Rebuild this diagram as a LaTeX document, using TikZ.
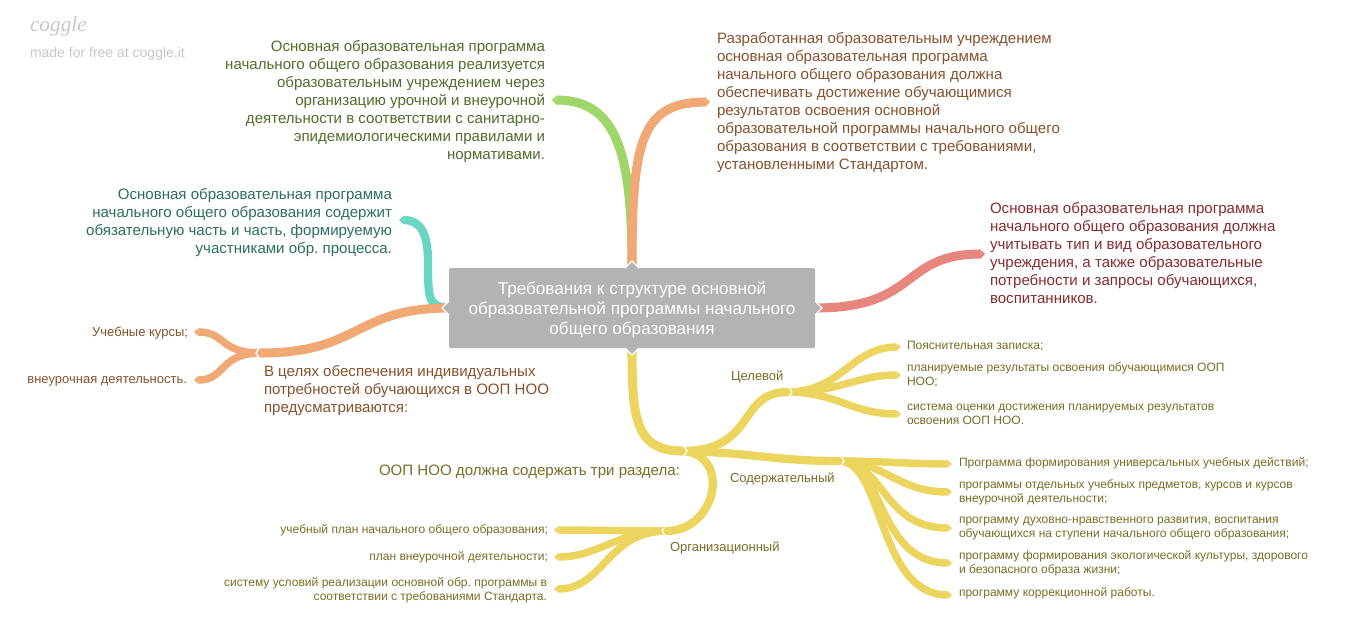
\documentclass[tikz,border=0pt]{standalone}
\usepackage{fontspec}
\setmainfont{Liberation Sans}
\newfontfamily\logofont{Liberation Serif}
\usetikzlibrary{arrows.meta}
\frenchspacing
\definecolor{rootgray}{HTML}{B3B3B3}
\definecolor{brgreen}{HTML}{9FD569}
\definecolor{brorange}{HTML}{F0A875}
\definecolor{brteal}{HTML}{68D6C1}
\definecolor{brred}{HTML}{E6867F}
\definecolor{bryellow}{HTML}{EBD55E}
\definecolor{txgreen}{HTML}{4F6D2D}
\definecolor{txorange}{HTML}{85522B}
\definecolor{txteal}{HTML}{2B6E5F}
\definecolor{txred}{HTML}{862B2F}
\definecolor{txyellow}{HTML}{7A6B26}
% white chevron at a joint, #2=1 points right, #2=-1 points left
\newcommand{\chev}[2]{\draw[chevline,shift={(#1)},xscale=#2] (-5,-8) -- (0,0) -- (-5,8);}
\begin{document}
\begin{tikzpicture}[x=0.75pt,y=-0.75pt]
\tikzstyle{every node}=[inner sep=0pt,outer sep=0pt]
\tikzstyle{branch}=[line width=6.8pt,-{Triangle[length=3.2pt,width=0pt 1,line width=0pt]}]
\tikzstyle{limb}=[branch,line width=6.2pt]
\tikzstyle{twig}=[branch,line width=5.6pt]
\tikzstyle{chevline}=[white,line width=1pt]
\tikzstyle{tab}=[fill=rootgray,draw=white,line width=1pt,line join=miter]
\tikzstyle{big}=[font=\fontsize{11.3pt}{13.5pt}\selectfont]
\tikzstyle{mid}=[font=\fontsize{9.75pt}{12pt}\selectfont]
\tikzstyle{small}=[font=\fontsize{9.03pt}{10.5pt}\selectfont]
\useasboundingbox (0,0) rectangle (1370,636);
\node[text=black!22,font=\logofont\itshape\fontsize{16pt}{16pt}\selectfont,anchor=west] (logo) at (30,26) {coggle};
\node[text=black!22,font=\fontsize{10.5pt}{12pt}\selectfont,anchor=west] (made) at (30,54) {made for free at coggle.it};
\node[fill=rootgray,rounded corners=1.5pt,minimum width=274.5pt,minimum height=60pt] (root) at (632,308) {};
\node[align=center,text=white,font=\fontsize{12.85pt}{15pt}\selectfont] (troot) at (632,310)
  {Требования к структуре основной\\образовательной программы начального\\общего образования};
% texts of the first level
\node[big,text=txgreen,align=right,anchor=east] (tgreen) at (545,102)
  {Основная образовательная программа\\начального общего образования реализуется\\образовательным учреждением через\\организацию урочной и внеурочной\\деятельности в соответствии с санитарно-\\эпидемиологическими правилами и\\нормативами.};
\node[big,text=txorange,align=left,anchor=west] (torange) at (717,103)
  {Разработанная образовательным учреждением\\основная образовательная программа\\начального общего образования должна\\обеспечивать достижение обучающимися\\результатов освоения основной\\образовательной программы начального общего\\образования в соответствии с требованиями,\\установленными Стандартом.};
\node[big,text=txteal,align=right,anchor=east] (tteal) at (392,223)
  {Основная образовательная программа\\начального общего образования содержит\\обязательную часть и часть, формируемую\\участниками обр. процесса.};
\node[big,text=txred,align=left,anchor=west] (tred) at (990,253)
  {Основная образовательная программа\\начального общего образования должна\\учитывать тип и вид образовательного\\учреждения, а также образовательные\\потребности и запросы обучающихся,\\воспитанников.};
\node[big,text=txorange,align=left,anchor=west] (tneeds) at (264,391)
  {В целях обеспечения индивидуальных\\потребностей обучающихся в ООП НОО\\предусматриваются:};
\node[big,text=txyellow,anchor=east] (tthree) at (680,472) {ООП НОО должна содержать три раздела:};
% small labels
\node[mid,text=txorange,anchor=east] (tcourse) at (188,333) {Учебные курсы;};
\node[mid,text=txorange,anchor=east] (textra) at (187,381) {внеурочная деятельность.};
\node[mid,text=txyellow,anchor=west] (ttarget) at (731,377) {Целевой};
\node[mid,text=txyellow,anchor=west] (tcontent) at (730,479) {Содержательный};
\node[mid,text=txyellow,anchor=west] (torg) at (670,548) {Организационный};
\tikzstyle{leaf}=[small,text=txyellow,align=left,anchor=west]
\tikzstyle{rleaf}=[small,text=txyellow,align=right,anchor=east]
\node[leaf] (l1) at (907,346) {Пояснительная записка;};
\node[leaf] (l2) at (907,375) {планируемые результаты освоения обучающимися ООП\\НОО;};
\node[leaf] (l3) at (907,414) {система оценки достижения планируемых результатов\\освоения ООП НОО.};
\node[leaf] (m1) at (959,463) {Программа формирования универсальных учебных действий;};
\node[leaf] (m2) at (959,492) {программы отдельных учебных предметов, курсов и курсов\\внеурочной деятельности;};
\node[leaf] (m3) at (959,529) {программу духовно-нравственного развития, воспитания\\обучающихся на ступени начального общего образования;};
\node[leaf] (m4) at (959,563) {программу формирования экологической культуры, здорового\\и безопасного образа жизни;};
\node[leaf] (m5) at (959,593) {программу коррекционной работы.};
\node[rleaf] (r1) at (548,530) {учебный план начального общего образования;};
\node[rleaf] (r2) at (548,557) {план внеурочной деятельности;};
\node[rleaf] (r3) at (547,590) {систему условий реализации основной обр. программы в\\соответствии с требованиями Стандарта.};
% branch ends
\coordinate (egreen) at (552,100);
\coordinate (eorange) at (710,102);
\coordinate (eteal) at (399,220);
\coordinate (ered) at (985,254);
\coordinate (eneeds) at (256,353);
\coordinate (eneedss) at (261,353);
\coordinate (ecourse) at (194,332);
\coordinate (eextra) at (194,380);
\coordinate (emain) at (687,451);
\coordinate (emains) at (682,451);
\coordinate (etarget) at (792,392);
\coordinate (etargets) at (787,392);
\coordinate (econtent) at (844,461);
\coordinate (econtents) at (839,461);
\coordinate (eorg) at (662,531);
\coordinate (eorgs) at (667,531);
\coordinate (el1) at (901,347);
\coordinate (el2) at (901,375);
\coordinate (el3) at (901,414);
\coordinate (em1) at (952,464);
\coordinate (em2) at (952,492);
\coordinate (em3) at (952,528);
\coordinate (em4) at (952,563);
\coordinate (em5) at (952,595);
\coordinate (er1) at (554,530);
\coordinate (er2) at (554,557);
\coordinate (er3) at (554,589);
% branches
\draw[branch,brgreen] (root.north) .. controls +(0,-115) and +(65,0) .. (egreen);
\draw[branch,brorange] (root.north) .. controls +(0,-125) and +(-70,0) .. (eorange);
\draw[limb,brteal] (root.west) .. controls +(-20,-2) and +(0,40) .. (428,262) .. controls +(0,-28) and +(22,0) .. (eteal);
\draw[twig,brorange] (eneedss) .. controls +(-42,0) and +(32,0) .. (ecourse);
\draw[twig,brorange] (eneedss) .. controls +(-42,0) and +(32,0) .. (eextra);
\draw[branch,brorange] (root.west) .. controls +(-95,0) and +(105,0) .. (eneeds);
\draw[branch,brred] (root.east) .. controls +(105,0) and +(-85,0) .. (ered);
% yellow part
\foreach \e/\a/\b in {el1/55/50,el2/55/45,el3/50/50}
  \draw[twig,bryellow] (etargets) .. controls +(\a,0) and +(-\b,0) .. (\e);
\foreach \e/\a/\b in {em1/40/40,em2/45/55,em3/45/70,em4/45/75,em5/45/75}
  \draw[twig,bryellow] (econtents) .. controls +(\a,0) and +(-\b,0) .. (\e);
\foreach \e/\a/\b in {er1/30/30,er2/50/45,er3/60/50}
  \draw[twig,bryellow] (eorgs) .. controls +(-\a,0) and +(\b,0) .. (\e);
\draw[limb,bryellow] (emains) .. controls +(75,0) and +(-55,0) .. (etarget);
\draw[limb,bryellow] (emains) .. controls +(75,2) and +(-70,0) .. (econtent);
\draw[limb,bryellow] (emains) .. controls +(50,3) and +(55,0) .. (eorg);
\draw[branch,bryellow] (root.south) .. controls +(0,70) and +(-52,0) .. (emain);
\chev{eneeds}{-1}
\chev{emain}{1}
\chev{etarget}{1}
\chev{econtent}{1}
\chev{eorg}{-1}
% tabs on the root box
\draw[tab] (625,268) -- (632,261) -- (639,268);
\draw[tab] (625,348) -- (632,355) -- (639,348);
\draw[tab] (449,301) -- (442,308) -- (449,315);
\draw[tab] (815,301) -- (822,308) -- (815,315);
\end{tikzpicture}
\end{document}
